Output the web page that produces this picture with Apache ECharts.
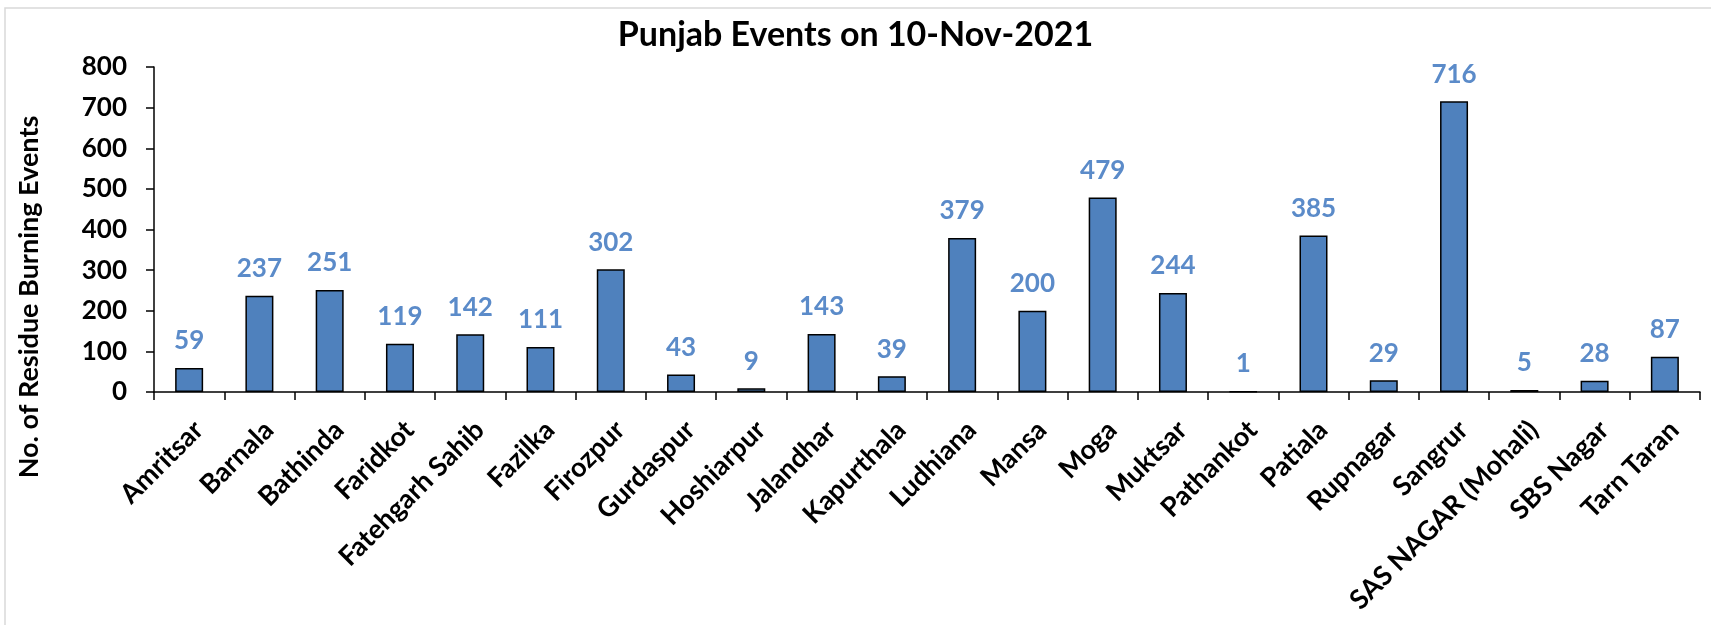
<!DOCTYPE html>
<html>
<head>
<meta charset="utf-8">
<script src="https://cdn.jsdelivr.net/npm/echarts@6/dist/echarts.min.js"></script>
<style>html,body{margin:0;padding:0;background:#fff;}#c{width:1711px;height:625px;}</style>
</head>
<body>
<div id="c"></div>
<script>
const categories = ["Amritsar","Barnala","Bathinda","Faridkot","Fatehgarh Sahib","Fazilka","Firozpur","Gurdaspur","Hoshiarpur","Jalandhar","Kapurthala","Ludhiana","Mansa","Moga","Muktsar","Pathankot","Patiala","Rupnagar","Sangrur","SAS NAGAR (Mohali)","SBS Nagar","Tarn Taran"];
const events = [59,237,251,119,142,111,302,43,9,143,39,379,200,479,244,1,385,29,716,5,28,87];
const titleText = "Punjab Events on 10-Nov-2021";
const yAxisTitle = "No. of Residue Burning Events";

const FONT = "Lato";
const chart = echarts.init(document.getElementById('c'), null, {renderer: 'canvas'});
chart.setOption({
  backgroundColor: '#fff',
  animation: false,
  title: {
    text: titleText,
    left: 'center',
    top: 13,
    textStyle: {fontFamily: FONT, fontWeight: 'bold', fontSize: 34, color: '#000'}
  },
  graphic: [
    {type: 'rect', shape: {x: 5, y: 8, width: 1800, height: 800}, style: {fill: 'none', stroke: '#d9d9d9', lineWidth: 1.5}, silent: true},
    {type: 'text', x: 29, y: 297, rotation: Math.PI / 2,
     style: {text: yAxisTitle, fontFamily: FONT, fontWeight: 'bold', fontSize: 27, fill: '#000', textAlign: 'center', textVerticalAlign: 'middle'}}
  ],
  grid: {left: 154, right: 11, top: 67, bottom: 233, containLabel: false},
  xAxis: {
    type: 'category',
    data: categories,
    axisLine: {lineStyle: {color: '#000', width: 1.5}},
    axisTick: {show: true, length: 8, lineStyle: {color: '#000', width: 1.5}},
    axisLabel: {rotate: 45, interval: 0, margin: 24, verticalAlign: 'top', fontFamily: FONT, fontWeight: 'bold', fontSize: 27, color: '#000'}
  },
  yAxis: {
    type: 'value',
    min: 0, max: 800, interval: 100,
    axisLine: {show: true, lineStyle: {color: '#000', width: 1.5}},
    axisTick: {show: true, length: 8, lineStyle: {color: '#000', width: 1.5}},
    splitLine: {show: false},
    axisLabel: {margin: 27, fontFamily: FONT, fontWeight: 'bold', fontSize: 26, color: '#000'}
  },
  series: [{
    type: 'bar',
    data: events,
    barWidth: 28,
    itemStyle: {color: '#4F81BD', borderColor: '#000', borderWidth: 1.5},
    label: {show: true, position: 'top', distance: 14, fontFamily: FONT, fontWeight: 'bold', fontSize: 26, color: '#5B8BC9'}
  }]
});
</script>
</body>
</html>
